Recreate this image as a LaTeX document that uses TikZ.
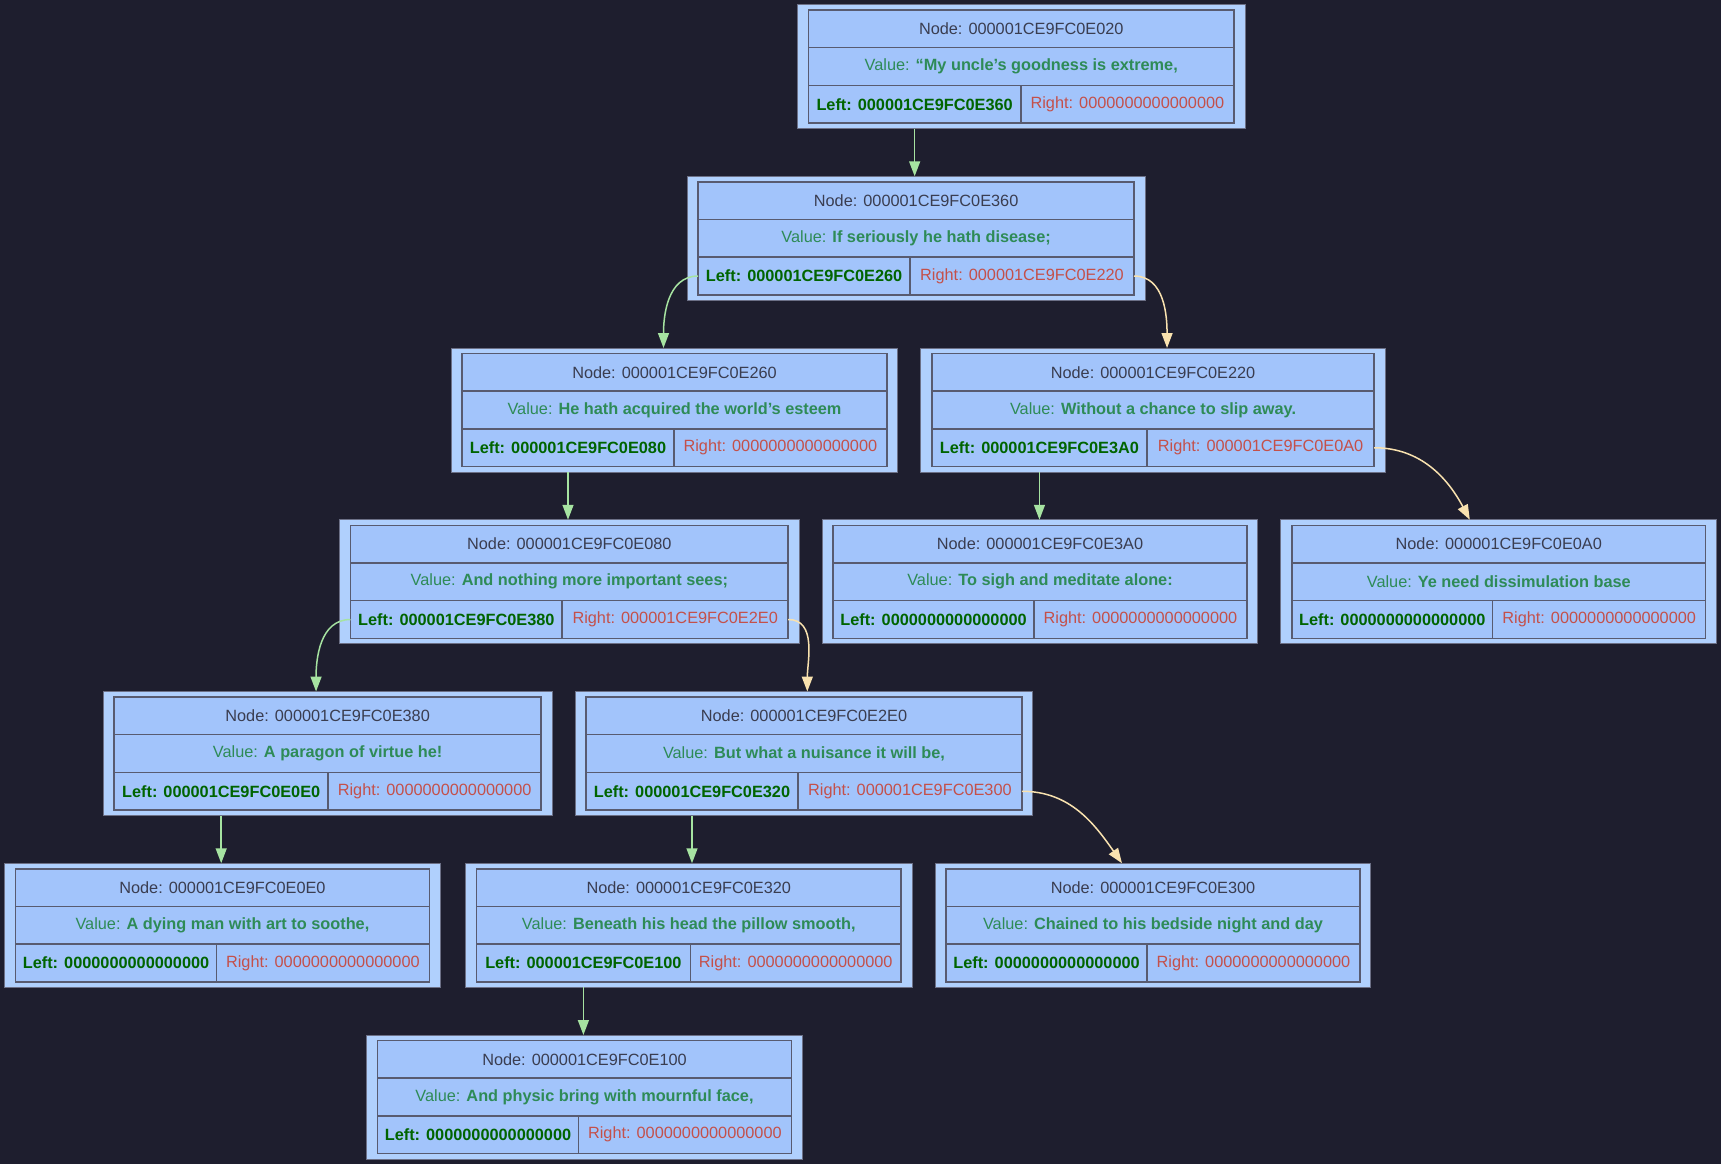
\documentclass[tikz,border=0pt]{standalone}
\usepackage{fontspec}
\setmainfont{Liberation Sans}
\usetikzlibrary{arrows.meta}
\definecolor{bgcol}{HTML}{1E1E2E}
\definecolor{boxfill}{HTML}{B0D0FD}
\definecolor{boxline}{HTML}{6C7086}
\definecolor{cellfill}{HTML}{A2C4FB}
\definecolor{cellline}{HTML}{585B70}
\definecolor{headtxt}{HTML}{3A3D50}
\definecolor{valtxt}{HTML}{2E8B57}
\definecolor{lefttxt}{HTML}{006400}
\definecolor{righttxt}{HTML}{C4504A}
\definecolor{edgegreen}{HTML}{A6E3A1}
\definecolor{edgeyellow}{HTML}{F9E2AF}
\tikzset{
	recbox/.style={draw=boxline, fill=boxfill, line width=1pt, inner sep=0pt, outer sep=0pt},
	cellbox/.style={draw=cellline, fill=cellfill, line width=1.5pt, inner sep=0pt, outer sep=0pt, anchor=north west, minimum height=37.7pt, font=\fontsize{16.3}{19}\selectfont},
	edgeL/.style={draw=edgegreen, line width=1.5pt, -{Triangle[length=15pt,width=11pt]}},
	edgeR/.style={draw=edgeyellow, line width=1.5pt, -{Triangle[length=15pt,width=11pt]}}
}
\def\treenode(#1)(#2,#3,#4,#5)#6#7#8#9{%
	\node[recbox, minimum width={#4-#2+22}, minimum height=124] (#1) at ({(#2+#4)/2},{-#5-56.5}) {};
	\node[cellbox, minimum width={#4-#2}] (#1-h) at (#2,-#5) {\color{headtxt}Node: #6};
	\node[cellbox, minimum width={#4-#2}] (#1-v) at (#2,{-#5-37.7}) {\color{valtxt}Value: \textbf{#7}};
	\node[cellbox, minimum width={#3-#2}] (#1-l) at (#2,{-#5-75.4}) {\color{lefttxt}\textbf{Left: #8}};
	\node[cellbox, minimum width={#4-#3}] (#1-r) at (#3,{-#5-75.4}) {\color{righttxt}Right: #9};
}

\begin{document}
\begin{tikzpicture}[x=1pt, y=1pt]
			%%%%% START %%%%%
			
			\useasboundingbox (0, 0) rectangle (1721, -1164);
			\fill[bgcol] (0, 0) rectangle (1721, -1164);
			
			\treenode(E020)(808.5,1020.8,1234,10){000001CE9FC0E020}{“My uncle’s goodness is extreme,}{000001CE9FC0E360}{0000000000000000}
			\treenode(E360)(698.2,910,1134,181.75){000001CE9FC0E360}{If seriously he hath disease;}{000001CE9FC0E260}{000001CE9FC0E220}
			
			\treenode(E260)(462.1,673.9,886.9,353.5){000001CE9FC0E260}{He hath acquired the world’s esteem}{000001CE9FC0E080}{0000000000000000}
			\treenode(E220)(931.9,1147,1374.2,353.5){000001CE9FC0E220}{Without a chance to slip away.}{000001CE9FC0E3A0}{000001CE9FC0E0A0}
			
			\treenode(E080)(350.5,562.2,788.2,525.25){000001CE9FC0E080}{And nothing more important sees;}{000001CE9FC0E380}{000001CE9FC0E2E0}
			\treenode(E3A0)(833.1,1034,1246.9,525.25){000001CE9FC0E3A0}{To sigh and meditate alone:}{0000000000000000}{0000000000000000}
			\treenode(E0A0)(1291.9,1492.7,1705.7,525.25){000001CE9FC0E0A0}{Ye need dissimulation base}{0000000000000000}{0000000000000000}
			
			\treenode(E380)(114.2,328.2,541.1,697){000001CE9FC0E380}{A paragon of virtue he!}{000001CE9FC0E0E0}{0000000000000000}
			\treenode(E2E0)(586.1,797.9,1021.9,697){000001CE9FC0E2E0}{But what a nuisance it will be,}{000001CE9FC0E320}{000001CE9FC0E300}
			
			\treenode(E0E0)(15.6,216.5,429.3,868.75){000001CE9FC0E0E0}{A dying man with art to soothe,}{0000000000000000}{0000000000000000}
			\treenode(E320)(476.4,690.4,901.1,868.75){000001CE9FC0E320}{Beneath his head the pillow smooth,}{000001CE9FC0E100}{0000000000000000}
			\treenode(E300)(946.1,1147,1359.9,868.75){000001CE9FC0E300}{Chained to his bedside night and day}{0000000000000000}{0000000000000000}
			
			\treenode(E100)(377.6,578.4,791.4,1040.5){000001CE9FC0E100}{And physic bring with mournful face,}{0000000000000000}{0000000000000000}
			
			\draw[edgeL] (E020-l.south |- E020.south) -- (E020-l.south |- E360.north);
			\draw[edgeL] (E360-l.west) to[out=180, in=90] ([xshift=-11pt]E260.north);
			\draw[edgeR] (E360-r.east) to[out=0, in=90] ([xshift=14pt]E220.north);
			
			\draw[edgeL] (E260-l.south |- E260.south) -- (E260-l.south |- E080.north);
			\draw[edgeL] (E220-l.south |- E220.south) -- (E220-l.south |- E3A0.north);
			\draw[edgeR] (E220-r.east) to[out=0, in=118] ([xshift=-29pt]E0A0.north);
			
			\draw[edgeL] (E080-l.west) to[out=180, in=90] ([xshift=-11.6pt]E380.north);
			\draw[edgeR] (E080-r.east) to[out=0, in=90] ([xshift=3.3pt]E2E0.north);
			
			\draw[edgeL] (E380-l.south |- E380.south) -- (E380-l.south |- E0E0.north);
			\draw[edgeL] (E2E0-l.south |- E2E0.south) -- (E2E0-l.south |- E320.north);
			\draw[edgeR] (E2E0-r.east) to[out=0, in=125] ([xshift=-31pt]E300.north);
			
			\draw[edgeL] (E320-l.south |- E320.south) -- (E320-l.south |- E100.north);
			
			%%%%% END %%%%%
\end{tikzpicture}
\end{document}
